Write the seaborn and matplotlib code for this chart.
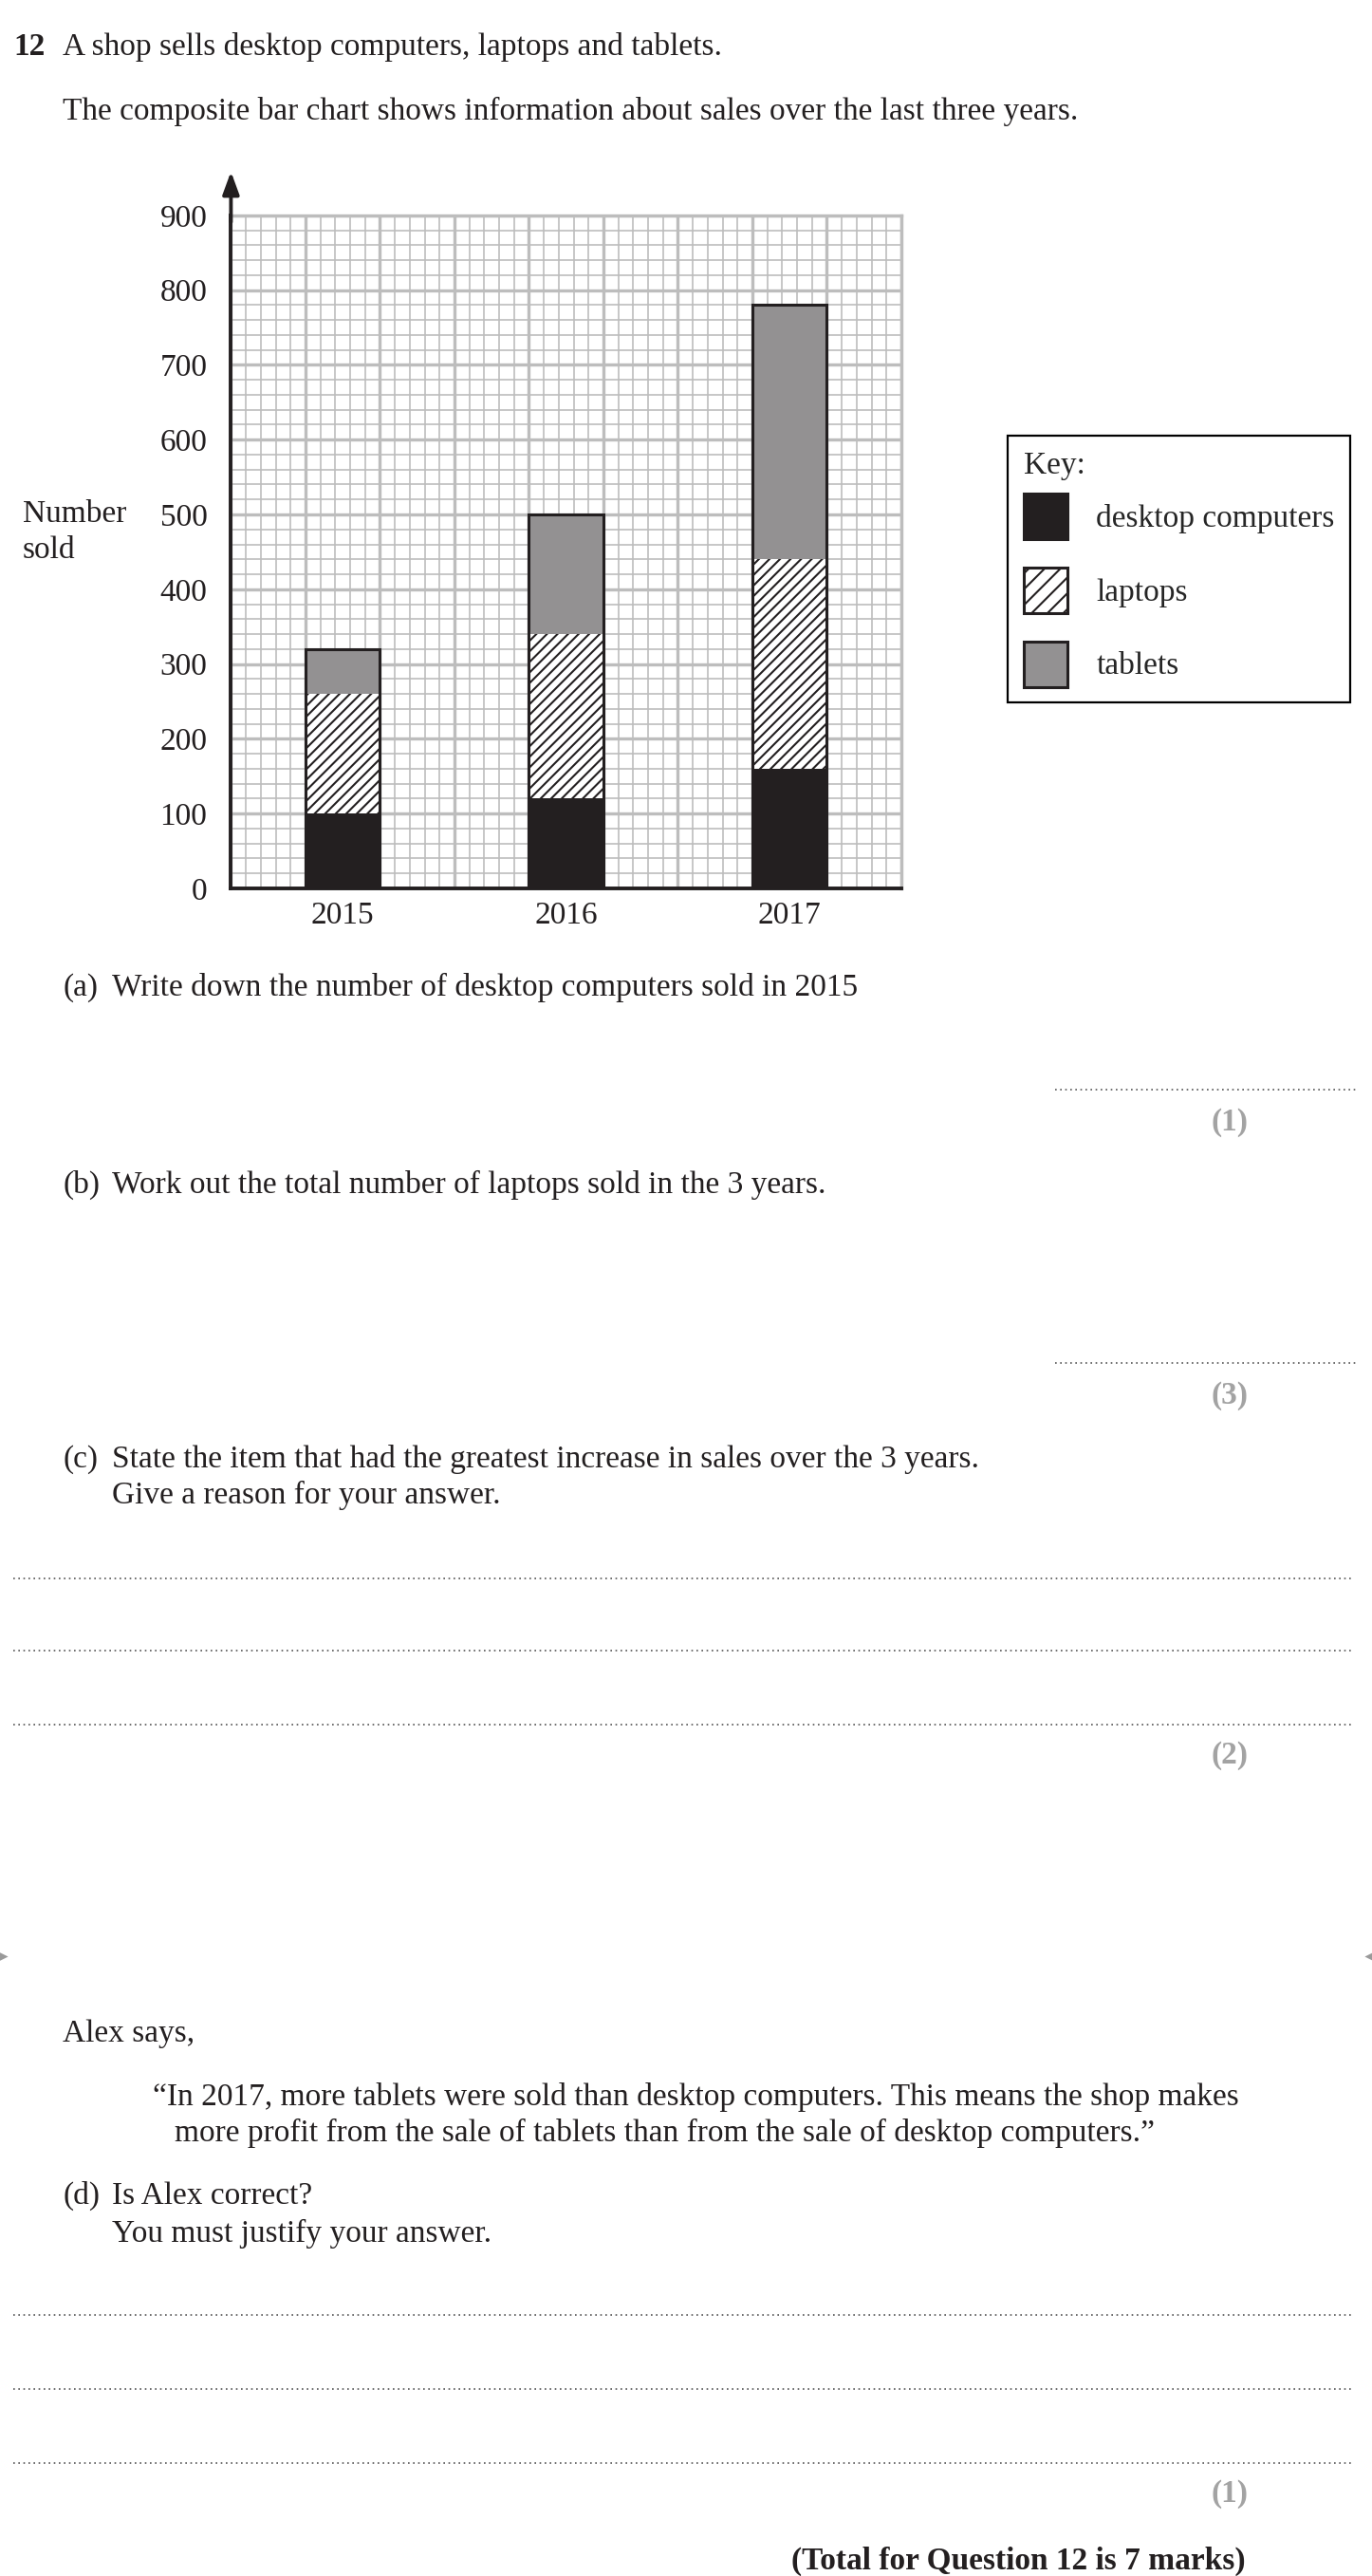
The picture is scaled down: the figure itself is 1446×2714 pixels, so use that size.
import numpy as np
import pandas as pd
import seaborn as sns
import matplotlib.pyplot as plt
from matplotlib.patches import Patch

# values
years = ['2015', '2016', '2017']
desktop = [100, 120, 160]
laptops = [160, 220, 280]
tablets = [60, 160, 340]
item_names = ['desktop computers', 'laptops', 'tablets']
y_ticks = list(range(0, 901, 100))

df = pd.DataFrame({'year': years, 'desktop': desktop, 'laptops': laptops, 'tablets': tablets})
df['desk_lap'] = df['desktop'] + df['laptops']
df['total'] = df['desk_lap'] + df['tablets']

sns.set_style('white')
plt.rcParams['font.family'] = ['Liberation Serif', 'DejaVu Serif']
plt.rcParams['font.size'] = 12
plt.rcParams['hatch.linewidth'] = 0.75

BLACK = '#231f20'
GREY = '#939192'
GRID = '#bdbdbd'
DOTS = '#555555'
MARK = '#a3a3a3'
HATCH = '//////'
W, H = 1446, 2714

fig = plt.figure(figsize=(W / 200, H / 200), dpi=200)

# page layer in pixel coordinates for the question text
page = fig.add_axes([0, 0, 1, 1], zorder=0)
page.set_xlim(0, W)
page.set_ylim(H, 0)
page.axis('off')

ax = fig.add_axes([243.4 / W, 1 - 935.9 / H, 706.6 / W, 709 / H], zorder=2)

# stacked bars: draw cumulative heights on top of each other
bw = 1 / 3
common = dict(ax=ax, errorbar=None, width=bw, saturation=1, order=years)
sns.barplot(data=df, x='year', y='total', color=GREY, linewidth=0, **common)
sns.barplot(data=df, x='year', y='desk_lap', color='white', edgecolor=BLACK,
            hatch=HATCH, linewidth=0, **common)
sns.barplot(data=df, x='year', y='desktop', color=BLACK, linewidth=0, **common)
sns.barplot(data=df, x='year', y='total', fill=False, color=BLACK, linewidth=1.1, **common)

ax.set_xlim(-0.5, 2.5)
ax.set_ylim(0, 900)
ax.set_xticks(np.linspace(-0.5, 2.5, 10))
ax.set_xticklabels([])
ax.set_xticks(np.linspace(-0.5, 2.5, 46), minor=True)
ax.set_yticks(y_ticks)
ax.set_yticks(range(0, 901, 20), minor=True)
ax.grid(which='major', color=GRID, lw=1.2)
ax.grid(which='minor', color=GRID, lw=0.6)
ax.set_axisbelow(True)
ax.tick_params(axis='x', which='both', length=0)
ax.tick_params(axis='y', which='minor', length=0)
ax.tick_params(axis='y', which='major', length=5.4, width=0.6, color=BLACK,
               pad=3.6, labelsize=12, labelcolor=BLACK)
for side in ['left', 'bottom']:
    ax.spines[side].set_color(BLACK)
    ax.spines[side].set_linewidth(1.4)
    ax.spines[side].set_zorder(5)
for side in ['top', 'right']:
    ax.spines[side].set_color(GRID)
    ax.spines[side].set_linewidth(1.2)

sec = ax.secondary_xaxis('bottom')
sec.set_xticks(range(len(years)), labels=years)
sec.tick_params(length=0, pad=5, labelsize=12, labelcolor=BLACK)
sec.spines['bottom'].set_visible(False)

ax.set_xlabel('')
ax.set_ylabel('Number\nsold', rotation=0, ha='left', va='center',
              multialignment='left', linespacing=1.3, fontsize=12, color=BLACK)
ax.yaxis.set_label_coords((24 - 243.4) / 706.6, (935.9 - 561) / 709)

ax.annotate('', xy=(0, 1.065), xytext=(0, 0.99), xycoords='axes fraction',
            annotation_clip=False,
            arrowprops=dict(arrowstyle='-|>,head_length=0.6,head_width=0.22',
                            color=BLACK, lw=1.4, mutation_scale=12,
                            shrinkA=0, shrinkB=0))

handles = [Patch(facecolor=BLACK, edgecolor=BLACK, lw=1.1),
           Patch(facecolor='white', edgecolor=BLACK, hatch='////', lw=1.1),
           Patch(facecolor=GREY, edgecolor=BLACK, lw=1.1)]
leg = fig.legend(handles, item_names, title='Key:', loc='upper left',
                 bbox_to_anchor=(1062 / W, 1 - 459 / H), alignment='left',
                 frameon=True, fancybox=False, edgecolor='black', framealpha=1,
                 handlelength=1.4, handleheight=1.83, handletextpad=0.9,
                 labelspacing=0.9, borderpad=0.5, borderaxespad=0,
                 fontsize=12, title_fontsize=12)
leg.get_frame().set_linewidth(0.8)
# tighter gap between "Key:" and the first entry
leg._legend_box.sep = 5.0


def put(x, y, s, **kw):
    page.text(x, y + 10, s, va='baseline', color=BLACK, fontsize=12, **kw)


def mark(y, s):
    page.text(1296, y + 10, s, va='baseline', ha='center', color=MARK,
              fontsize=12, fontweight='bold')


def dotted(x0, x1, y):
    page.hlines(y, x0, x1, color=DOTS, lw=0.6, linestyles=[(0, (1, 2.2))])


put(14, 48, '12', fontweight='bold')
put(66, 48, 'A shop sells desktop computers, laptops and tablets.')
put(66, 116, 'The composite bar chart shows information about sales over the last three years.')

put(66, 1039, '(a)')
put(118, 1039, 'Write down the number of desktop computers sold in 2015')
dotted(1112, 1431, 1148)
mark(1181, '(1)')

put(66, 1247, '(b)')
put(118, 1247, 'Work out the total number of laptops sold in the 3 years.')
dotted(1112, 1431, 1436)
mark(1469, '(3)')

put(66, 1536, '(c)')
put(118, 1536, 'State the item that had the greatest increase in sales over the 3 years.')
put(118, 1574, 'Give a reason for your answer.')
for y in [1663, 1739, 1817]:
    dotted(14, 1424, y)
mark(1848, '(2)')

page.plot([1], [2061], marker='>', ms=3, color='#9a9a9a', clip_on=False)
page.plot([W - 1], [2061], marker='<', ms=3, color='#9a9a9a', clip_on=False)

put(66, 2141, 'Alex says,')
put(161, 2208, '\u201cIn 2017, more tablets were sold than desktop computers. This means the shop makes')
put(184, 2246, 'more profit from the sale of tablets than from the sale of desktop computers.\u201d')

put(66, 2312, '(d)')
put(118, 2312, 'Is Alex correct?')
put(118, 2352, 'You must justify your answer.')
for y in [2439, 2517, 2595]:
    dotted(14, 1424, y)
mark(2626, '(1)')

put(1313, 2697, '(Total for Question 12 is 7 marks)', ha='right', fontweight='bold')

fig.savefig('out.png', dpi=200, facecolor='white')
